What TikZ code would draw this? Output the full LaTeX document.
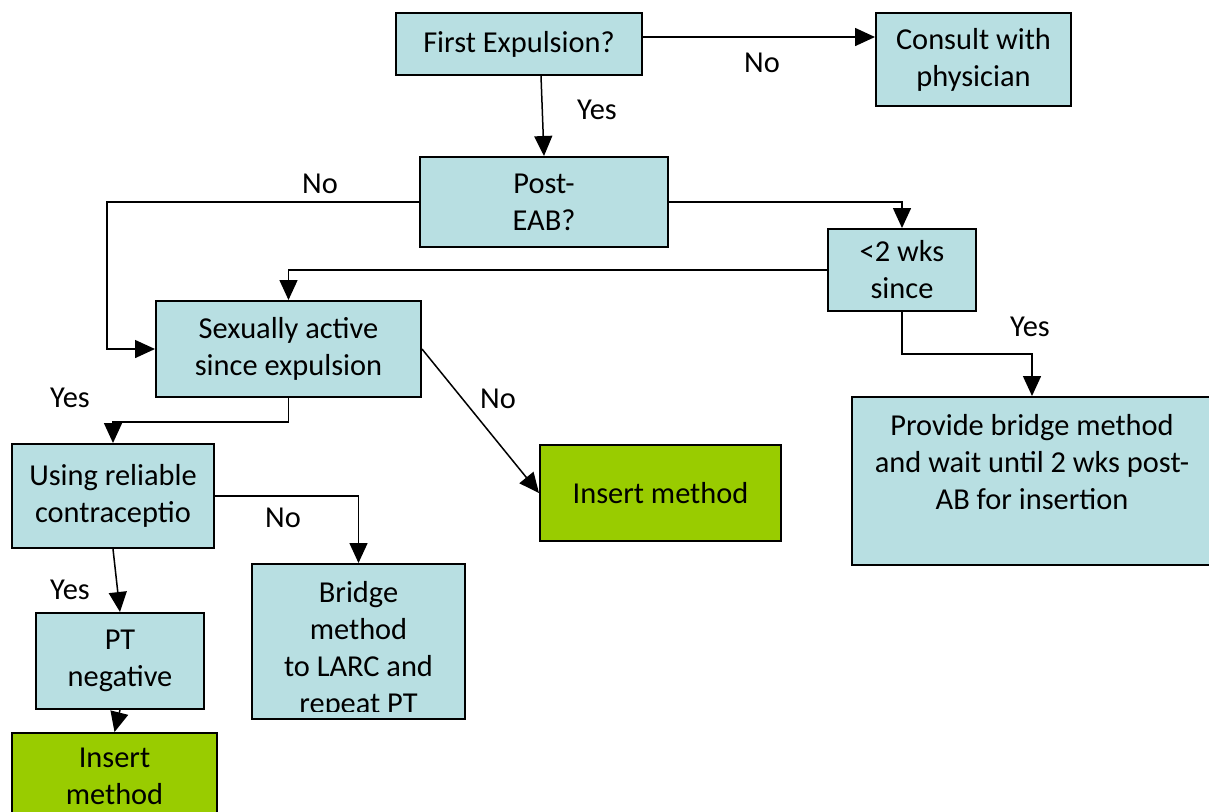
\documentclass[tikz,border=0pt]{standalone}
\usepackage{fontspec}
\setmainfont{Carlito}
\usetikzlibrary{arrows.meta}
\definecolor{boxblue}{RGB}{184,223,226}
\definecolor{boxgreen}{RGB}{153,204,0}
\tikzset{
  bx/.style={draw=black, line width=1pt, fill=boxblue, inner sep=0pt, align=center, font=\fontsize{15.2pt}{18.5pt}\selectfont},
  gbx/.style={bx, fill=boxgreen},
  txt/.style={inner sep=0pt, align=center, font=\fontsize{15.2pt}{18.5pt}\selectfont},
  lbl/.style={inner sep=0pt, anchor=base, font=\fontsize{15.2pt}{18.5pt}\selectfont},
  conn/.style={line width=0.75pt, -{Triangle[length=10pt,width=9pt]}}
}
\begin{document}
\begin{tikzpicture}[x=0.5pt,y=-0.5pt]
\useasboundingbox (0,0) rectangle (1209,811);
\clip (0,0) rectangle (1209,811);
% boxes
\node[bx, minimum width=123pt, minimum height=31pt] (first) at (519,44) {First Expulsion?};
\node[bx, minimum width=97.5pt, minimum height=46.5pt] (consult) at (973.5,59.5) {Consult with\\physician};
\node[bx, minimum width=124pt, minimum height=45pt] (post) at (544,202) {Post-\\EAB?};
\node[bx, minimum width=74pt, minimum height=41pt] (wks) at (902,270) {<2 wks\\since};
\node[bx, minimum width=132.5pt, minimum height=48pt] (sex) at (288.5,349) {Sexually active\\since expulsion};
\node[gbx, minimum width=120.5pt, minimum height=48pt] (insertA) at (660.5,493) {Insert method};
\node[bx, minimum width=180pt, minimum height=84pt] (provide) at (1032,481) {};
\node[txt, anchor=north] (providetext) at (1032,414) {Provide bridge method\\and wait until 2 wks post-\\AB for insertion};
\node[bx, minimum width=101pt, minimum height=52pt] (using) at (113,496) {Using reliable\\contraceptio};
\node[bx, minimum width=106.5pt, minimum height=77.5pt] (bridge) at (358.5,641.5) {};
\begin{scope}
  \clip (252,564) rectangle (465,711);
  \node[txt] (bridgetext) at (358.5,649.5) {Bridge\\method\\to LARC and\\repeat PT};
\end{scope}
\node[bx, minimum width=84pt, minimum height=48pt] (pt) at (120,661) {PT\\negative};
\node[gbx, minimum width=102.5pt, minimum height=43.5pt] (insertB) at (114.5,776.5) {Insert\\method};
% connectors
\draw[conn] ([yshift=3.5pt]first.east) -- ([yshift=3.5pt]first.east -| consult.west);
\draw[conn] ([xshift=11pt]first.south) -- (post.north);
\draw[conn] (post.west) -- ++(-312,0) |- (sex.west);
\draw[conn] (post.east) -| (wks.north);
\draw[conn] (wks.west) -| (sex.north);
\draw[conn] (wks.south) -- ++(0,42) -| (provide.north);
\draw[conn] (sex.east) -- (insertA.west);
\draw[conn] (sex.south) -- ++(0,24) -| (using.north);
\draw[conn] (using.east) -| (bridge.north);
\draw[conn] (using.south) -- (pt.north);
\draw[conn] (pt.south) -- (insertB.north);
% labels
\node[lbl] (l1) at (762,72) {No};
\node[lbl] (l2) at (597,119) {Yes};
\node[lbl] (l3) at (320,193) {No};
\node[lbl] (l4) at (1030,336) {Yes};
\node[lbl] (l5) at (498,408) {No};
\node[lbl] (l6) at (70,407) {Yes};
\node[lbl] (l7) at (283,527) {No};
\node[lbl] (l8) at (70,599) {Yes};
\end{tikzpicture}
\end{document}
